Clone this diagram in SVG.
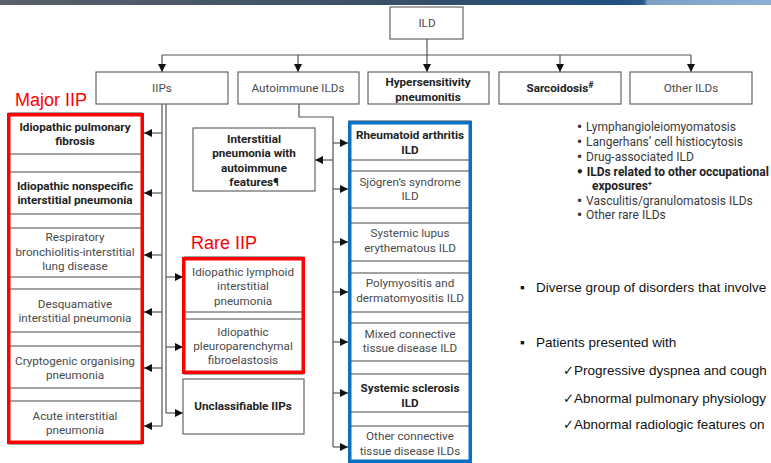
<svg xmlns="http://www.w3.org/2000/svg" width="771" height="463" viewBox="0 0 771 463">
<defs>
<linearGradient id="strip" x1="0" y1="0" x2="1" y2="0">
<stop offset="0" stop-color="#59616b"/>
<stop offset="0.5" stop-color="#3a4f66"/>
<stop offset="0.8" stop-color="#1f4f82"/>
<stop offset="0.835" stop-color="#2a5a8e"/>
<stop offset="0.84" stop-color="#7d9fc6"/>
<stop offset="1" stop-color="#8fb0d6"/>
</linearGradient>
<marker id="ah" viewBox="0 0 8 8" refX="8" refY="4" markerWidth="8" markerHeight="8" markerUnits="userSpaceOnUse" orient="auto">
<path d="M0,0 L8,4 L0,8 Z" fill="#111"/>
</marker>
<style>
.box{fill:#fff;stroke:#666;stroke-width:1.2}
.ib{fill:none;stroke:#666;stroke-width:1.2}
.t{font-family:Roboto,"Liberation Sans",sans-serif;font-size:11.7px;fill:#4a4a4a;text-anchor:middle}
.b{font-family:Roboto,"Liberation Sans",sans-serif;font-size:11.7px;font-weight:bold;fill:#222;text-anchor:middle}
.l{font-family:Roboto,"Liberation Sans",sans-serif;font-size:12px;fill:#3a3a3a}
.lb{font-family:Roboto,"Liberation Sans",sans-serif;font-size:12px;font-weight:bold;fill:#222}
.dot{font-family:"DejaVu Sans",sans-serif}
.red{fill:none;stroke:#ff0000;stroke-width:3.5}
.blue{fill:none;stroke:#0b6fc2;stroke-width:3.5}
.lab{font-family:"Liberation Sans",Arial,sans-serif;font-size:18px;fill:#ff0000}
.p{font-family:"Liberation Sans",Arial,sans-serif;font-size:13.5px;fill:#111}
.ck{font-size:12.5px}
.c{fill:none;stroke:#555;stroke-width:1.2}
.a{fill:none;stroke:#555;stroke-width:1.2;marker-end:url(#ah)}
</style>
</defs>
<rect x="0" y="0" width="771" height="5" fill="url(#strip)"/>

<g id="connectors">
<path class="c" d="M427,39 V55 M162,55 H691"/>
<path class="a" d="M162,55 V72"/>
<path class="a" d="M298,55 V72"/>
<path class="a" d="M427,55 V72"/>
<path class="a" d="M560,55 V72"/>
<path class="a" d="M691,55 V72"/>
<path class="c" d="M162,104 V426 M166,104 V413"/>
<path class="a" d="M162,133 H144"/>
<path class="a" d="M162,193 H144"/>
<path class="a" d="M162,255 H144"/>
<path class="a" d="M162,312 H144"/>
<path class="a" d="M162,368 H144"/>
<path class="a" d="M162,426 H144"/>
<path class="a" d="M166,277 H183"/>
<path class="a" d="M166,347 H183"/>
<path class="a" d="M166,413 H183"/>
<path class="c" d="M299,104 V117 H333 V447"/>
<path class="a" d="M333,160 H315"/>
<path class="a" d="M333,143 H348"/>
<path class="a" d="M333,189 H348"/>
<path class="a" d="M333,242 H348"/>
<path class="a" d="M333,292 H348"/>
<path class="a" d="M333,342 H348"/>
<path class="a" d="M333,393 H348"/>
<path class="a" d="M333,447 H348"/>
</g>

<g id="ild"><rect class="box" x="390" y="7" width="73" height="32"/><text class="t" x="427" y="27">ILD</text></g>
<g id="iips"><rect class="box" x="96" y="72" width="132" height="32"/><text class="t" x="162" y="92">IIPs</text></g>
<g id="autoimmune"><rect class="box" x="238" y="72" width="121" height="32"/><text class="t" x="298" y="92">Autoimmune ILDs</text></g>
<g id="hp"><rect class="box" x="368" y="72" width="121" height="32"/><text class="b" x="428" y="86">Hypersensitivity</text><text class="b" x="428" y="101">pneumonitis</text></g>
<g id="sarcoidosis"><rect class="box" x="499" y="72" width="122" height="32"/><text class="b" x="560" y="92">Sarcoidosis<tspan font-size="9" dy="-4">#</tspan></text></g>
<g id="other-ilds"><rect class="box" x="630" y="72" width="122" height="32"/><text class="t" x="691" y="92">Other ILDs</text></g>

<g id="major-iip">
<text class="lab" x="15" y="106">Major IIP</text>
<rect class="ib" x="9" y="113" width="133" height="41"/>
<rect class="ib" x="9" y="172" width="133" height="42"/>
<rect class="ib" x="9" y="228" width="133" height="49"/>
<rect class="ib" x="9" y="289" width="133" height="43"/>
<rect class="ib" x="9" y="346" width="133" height="42"/>
<rect class="ib" x="9" y="401" width="133" height="43"/>
<text class="b" x="75" y="131">Idiopathic pulmonary</text><text class="b" x="75" y="145">fibrosis</text>
<text class="b" x="75" y="190">Idiopathic nonspecific</text><text class="b" x="75" y="204">interstitial pneumonia</text>
<text class="t" x="75" y="241">Respiratory</text><text class="t" x="75" y="256">bronchiolitis-interstitial</text><text class="t" x="75" y="270">lung disease</text>
<text class="t" x="75" y="308">Desquamative</text><text class="t" x="75" y="322">interstitial pneumonia</text>
<text class="t" x="75" y="365">Cryptogenic organising</text><text class="t" x="75" y="379">pneumonia</text>
<text class="t" x="75" y="420">Acute interstitial</text><text class="t" x="75" y="434">pneumonia</text>
<rect class="red" x="8.75" y="114.75" width="133.5" height="327.5"/>
</g>

<g id="rare-iip">
<text class="lab" x="191" y="249">Rare IIP</text>
<rect class="ib" x="184" y="257" width="119" height="55"/>
<rect class="ib" x="184" y="319" width="119" height="55"/>
<text class="t" x="243" y="276">Idiopathic lymphoid</text><text class="t" x="243" y="290">interstitial</text><text class="t" x="243" y="305">pneumonia</text>
<text class="t" x="243" y="336">Idiopathic</text><text class="t" x="243" y="350">pleuroparenchymal</text><text class="t" x="243" y="364">fibroelastosis</text>
<rect class="red" x="183.75" y="258.75" width="119.5" height="113.5"/>
</g>

<g id="unclassifiable"><rect class="box" x="183" y="379" width="121" height="55"/><text class="b" x="243" y="410">Unclassifiable IIPs</text></g>

<g id="ipaf"><rect class="box" x="193" y="128" width="122" height="63"/>
<text class="b" x="254" y="143">Interstitial</text><text class="b" x="254" y="157">pneumonia with</text><text class="b" x="254" y="172">autoimmune</text><text class="b" x="254" y="186">features¶</text></g>

<g id="ctd-ild">
<rect class="ib" x="349" y="121" width="122" height="39"/>
<rect class="ib" x="349" y="171" width="122" height="37"/>
<rect class="ib" x="349" y="223" width="122" height="38"/>
<rect class="ib" x="349" y="273" width="122" height="39"/>
<rect class="ib" x="349" y="323" width="122" height="38"/>
<rect class="ib" x="349" y="374" width="122" height="38"/>
<rect class="ib" x="349" y="426" width="122" height="35"/>
<text class="b" x="410" y="139">Rheumatoid arthritis</text><text class="b" x="410" y="154">ILD</text>
<text class="t" x="410" y="186">Sjögren’s syndrome</text><text class="t" x="410" y="200">ILD</text>
<text class="t" x="410" y="237">Systemic lupus</text><text class="t" x="410" y="252">erythematous ILD</text>
<text class="t" x="410" y="287">Polymyositis and</text><text class="t" x="410" y="302">dermatomyositis ILD</text>
<text class="t" x="410" y="338">Mixed connective</text><text class="t" x="410" y="352">tissue disease ILD</text>
<text class="b" x="410" y="392">Systemic sclerosis</text><text class="b" x="410" y="407">ILD</text>
<text class="t" x="410" y="440">Other connective</text><text class="t" x="410" y="455">tissue disease ILDs</text>
<rect class="blue" x="349.75" y="122.75" width="120.5" height="338.5"/>
</g>

<g id="other-list">
<text class="l" x="576" y="131"><tspan class="dot">•</tspan> Lymphangioleiomyomatosis</text>
<text class="l" x="576" y="146"><tspan class="dot">•</tspan> Langerhans’ cell histiocytosis</text>
<text class="l" x="576" y="161"><tspan class="dot">•</tspan> Drug-associated ILD</text>
<text class="lb" x="576" y="176"><tspan class="dot">•</tspan> ILDs related to other occupational</text>
<text class="lb" x="592" y="190">exposures<tspan font-size="7" dy="-4">+</tspan></text>
<text class="l" x="576" y="205"><tspan class="dot">•</tspan> Vasculitis/granulomatosis ILDs</text>
<text class="l" x="576" y="219"><tspan class="dot">•</tspan> Other rare ILDs</text>
</g>

<g id="notes">
<text class="p" x="520" y="292" font-size="10">▪</text>
<text class="p" x="536" y="292">Diverse group of disorders that involve</text>
<text class="p" x="520" y="347" font-size="10">▪</text>
<text class="p" x="536" y="347">Patients presented with</text>
<text class="p" x="563" y="375"><tspan class="ck">✓</tspan>Progressive dyspnea and cough</text>
<text class="p" x="563" y="403"><tspan class="ck">✓</tspan>Abnormal pulmonary physiology</text>
<text class="p" x="563" y="429"><tspan class="ck">✓</tspan>Abnormal radiologic features on</text>
</g>
</svg>
